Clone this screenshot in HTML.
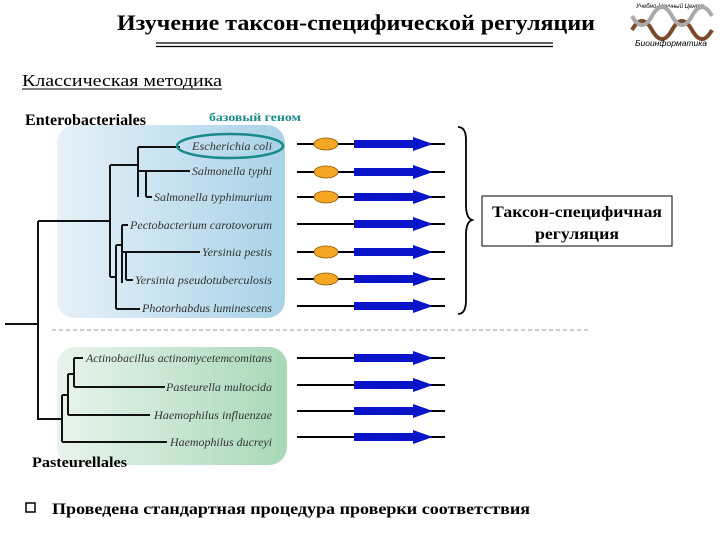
<!DOCTYPE html>
<html><head><meta charset="utf-8"><style>html,body{margin:0;padding:0;background:#fff;width:720px;height:540px;overflow:hidden}</style></head>
<body>
<svg width="720" height="540" viewBox="0 0 720 540" xmlns="http://www.w3.org/2000/svg" font-family="Liberation Serif, serif">
<defs>
<linearGradient id="gb" x1="0" x2="1"><stop offset="0" stop-color="#e6f1f8"/><stop offset="1" stop-color="#a9d2e8"/></linearGradient>
<linearGradient id="gg" x1="0" x2="1"><stop offset="0" stop-color="#e8f4ec"/><stop offset="1" stop-color="#a8d8b8"/></linearGradient>
</defs>
<text x="356" y="30" text-anchor="middle" font-size="22" font-weight="bold" textLength="478" lengthAdjust="spacingAndGlyphs">Изучение таксон-специфической регуляции</text>
<line x1="156" y1="43" x2="553" y2="43" stroke="#000" stroke-width="1.2"/>
<line x1="156" y1="46.5" x2="553" y2="46.5" stroke="#000" stroke-width="1.2"/>
<text x="670" y="8" text-anchor="middle" font-size="6" font-family="Liberation Sans, sans-serif" font-style="italic">Учебно-Научный Центр</text>
<path d="M632 30 Q642 12 652 30 T672 30 T692 30 T712 30" stroke="#7a4a2a" stroke-width="4" fill="none"/>
<path d="M632 16 Q642 34 652 16 T672 16 T692 16 T712 16" stroke="#aaa" stroke-width="4" fill="none"/>
<text x="671" y="46" text-anchor="middle" font-size="8.5" font-family="Liberation Sans, sans-serif" font-style="italic">Биоинформатика</text>
<text x="22" y="86" font-size="17" textLength="200" lengthAdjust="spacingAndGlyphs">Классическая методика</text>
<line x1="22" y1="89" x2="222" y2="89" stroke="#000"/>
<rect x="57" y="125" width="228" height="193" rx="18" fill="url(#gb)"/>
<rect x="57" y="347" width="230" height="118" rx="18" fill="url(#gg)"/>
<text x="25" y="125" font-size="16" font-weight="bold" textLength="121" lengthAdjust="spacingAndGlyphs">Enterobacteriales</text>
<text x="209" y="121" font-size="11.5" font-weight="bold" fill="#1a8a8a" textLength="92" lengthAdjust="spacingAndGlyphs">базовый геном</text>
<line x1="52" y1="330" x2="588" y2="330" stroke="#999" stroke-dasharray="4,3"/>
<g stroke="#111" stroke-width="2" fill="none">
<path d="M5 324H38M38 221V420M38 221H110M110 165V277M110 165H138M138 147V197M138 147H180M138 171H146M146 171V197M146 197H152M146 171H190M110 277H116M116 245V309M116 309H140M116 245H122M122 225V283M122 225H128M122 252H126M126 252V280M126 252H200M126 280H133"/>
<path d="M38 419H62M62 395V442M62 442H167M62 395H68M68 374V415M68 415H150M68 374H74M74 358V387M74 358H83M74 387H165"/>
</g>
<g font-size="12" font-style="italic" fill="#333" text-anchor="end">
<text x="272" y="150" textLength="80" lengthAdjust="spacingAndGlyphs">Escherichia coli</text>
<text x="272" y="175" textLength="80" lengthAdjust="spacingAndGlyphs">Salmonella typhi</text>
<text x="272" y="201" textLength="118" lengthAdjust="spacingAndGlyphs">Salmonella typhimurium</text>
<text x="272" y="229" textLength="142" lengthAdjust="spacingAndGlyphs">Pectobacterium carotovorum</text>
<text x="272" y="256" textLength="70" lengthAdjust="spacingAndGlyphs">Yersinia pestis</text>
<text x="272" y="284" textLength="137" lengthAdjust="spacingAndGlyphs">Yersinia pseudotuberculosis</text>
<text x="272" y="312" textLength="130" lengthAdjust="spacingAndGlyphs">Photorhabdus luminescens</text>
<text x="272" y="362" textLength="186" lengthAdjust="spacingAndGlyphs">Actinobacillus actinomycetemcomitans</text>
<text x="272" y="391" textLength="106" lengthAdjust="spacingAndGlyphs">Pasteurella multocida</text>
<text x="272" y="419" textLength="118" lengthAdjust="spacingAndGlyphs">Haemophilus influenzae</text>
<text x="272" y="446" textLength="102" lengthAdjust="spacingAndGlyphs">Haemophilus ducreyi</text>
</g>
<ellipse cx="230" cy="146" rx="53" ry="12" fill="none" stroke="#1a8a8a" stroke-width="2.5"/>
<text x="32" y="467" font-size="15" font-weight="bold" textLength="95" lengthAdjust="spacingAndGlyphs">Pasteurellales</text>
<g stroke="#000" stroke-width="2">
<line x1="297" y1="144" x2="445" y2="144"/><line x1="297" y1="172" x2="445" y2="172"/><line x1="297" y1="197" x2="445" y2="197"/><line x1="297" y1="224" x2="445" y2="224"/><line x1="297" y1="252" x2="445" y2="252"/><line x1="297" y1="279" x2="445" y2="279"/><line x1="297" y1="306" x2="445" y2="306"/>
<line x1="297" y1="358" x2="445" y2="358"/><line x1="297" y1="385" x2="445" y2="385"/><line x1="297" y1="411" x2="445" y2="411"/><line x1="297" y1="437" x2="445" y2="437"/>
</g>
<g fill="#f5a623" stroke="#8a5a00" stroke-width="0.8">
<ellipse cx="326" cy="144" rx="12" ry="6"/><ellipse cx="326" cy="172" rx="12" ry="6"/><ellipse cx="326" cy="197" rx="12" ry="6"/><ellipse cx="326" cy="252" rx="12" ry="6"/><ellipse cx="326" cy="279" rx="12" ry="6"/>
</g>
<g fill="#0a14c8">
<path d="M354 140H413V137L433 144L413 151V148H354Z"/>
<path d="M354 168H413V165L433 172L413 179V176H354Z"/>
<path d="M354 193H413V190L433 197L413 204V201H354Z"/>
<path d="M354 220H413V217L433 224L413 231V228H354Z"/>
<path d="M354 248H413V245L433 252L413 259V256H354Z"/>
<path d="M354 275H413V272L433 279L413 286V283H354Z"/>
<path d="M354 302H413V299L433 306L413 313V310H354Z"/>
<path d="M354 354H413V351L433 358L413 365V362H354Z"/>
<path d="M354 381H413V378L433 385L413 392V389H354Z"/>
<path d="M354 407H413V404L433 411L413 418V415H354Z"/>
<path d="M354 433H413V430L433 437L413 444V441H354Z"/>
</g>
<path d="M458 127Q466 127 466 140V205Q466 218 472 220Q466 222 466 235V300Q466 314 458 314" stroke="#000" stroke-width="1.8" fill="none"/>
<rect x="482" y="196" width="190" height="50" fill="#fff" stroke="#000"/>
<text x="577" y="217" text-anchor="middle" font-size="16" font-weight="bold" textLength="170" lengthAdjust="spacingAndGlyphs">Таксон-специфичная</text>
<text x="577" y="239" text-anchor="middle" font-size="16" font-weight="bold" textLength="84" lengthAdjust="spacingAndGlyphs">регуляция</text>
<rect x="26" y="503" width="9" height="9" fill="none" stroke="#000" stroke-width="1.5"/>
<text x="52" y="514" font-size="16" font-weight="bold" textLength="478" lengthAdjust="spacingAndGlyphs">Проведена стандартная процедура проверки соответствия</text>
</svg>
</body></html>
